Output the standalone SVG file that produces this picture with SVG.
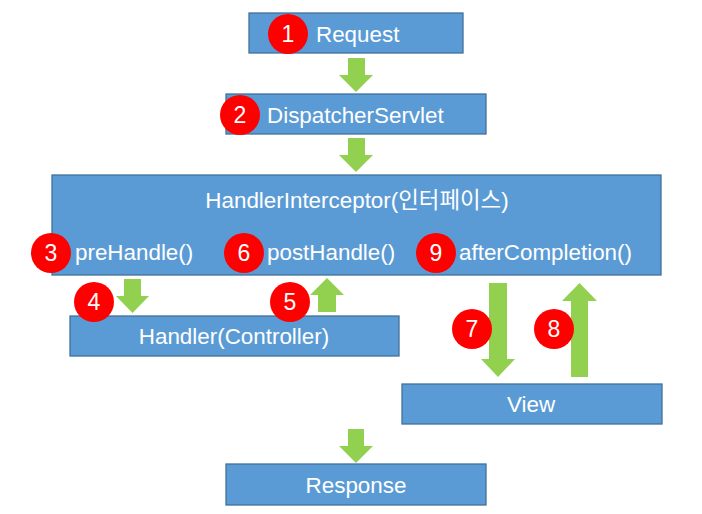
<svg xmlns="http://www.w3.org/2000/svg" width="702" height="514" viewBox="0 0 702 514">
<style>
.box{fill:#5B9BD5;stroke:#41719C;stroke-width:1.3}
.t{font-family:"Liberation Sans","Noto Sans CJK KR",sans-serif;font-size:22.4px;fill:#FFFFFF}
.c{fill:#FF0000}
.n{font-family:"Liberation Sans",sans-serif;font-size:23px;fill:#FFFFFF;text-anchor:middle}
.ar{fill:#92D050}
</style>
<rect width="702" height="514" fill="#FFFFFF"/>
<g id="connectors">
<polygon class="ar" points="348,58 365,58 365,75 373,75 356,92 339,75 348,75"/>
<polygon class="ar" points="348,138 365,138 365,155 373,155 356,172 339,155 348,155"/>
<polygon class="ar" points="124,279 141,279 141,296 149,296 132.5,313 116,296 124,296"/>
<polygon class="ar" points="327,278 344,295 336,295 336,312 318,312 318,295 310,295"/>
<polygon class="ar" points="489,283 507,283 507,359 515,359 498,377 481,359 489,359"/>
<polygon class="ar" points="579.5,283 597,301 588,301 588,377 571,377 571,301 562,301"/>
<polygon class="ar" points="348,429 364,429 364,446 373,446 356,463 339,446 348,446"/>
</g>
<g id="request">
<rect class="box" x="249" y="13" width="214" height="40"/>
<text class="t" x="316" y="42">Request</text>
</g>
<g id="dispatcher">
<rect class="box" x="226" y="94" width="260" height="40"/>
<text class="t" x="267" y="123">DispatcherServlet</text>
</g>
<g id="interceptor">
<rect class="box" x="52" y="175" width="609" height="100"/>
<text class="t" x="357" y="208" text-anchor="middle">HandlerInterceptor(인터페이스)</text>
<text class="t" x="75" y="260">preHandle()</text>
<text class="t" x="267" y="260">postHandle()</text>
<text class="t" x="459" y="260">afterCompletion()</text>
</g>
<g id="handler">
<rect class="box" x="70" y="316" width="329" height="40"/>
<text class="t" x="234" y="344" text-anchor="middle">Handler(Controller)</text>
</g>
<g id="view">
<rect class="box" x="402" y="384" width="260" height="40"/>
<text class="t" x="531" y="412" text-anchor="middle">View</text>
</g>
<g id="response">
<rect class="box" x="226" y="464" width="260" height="41"/>
<text class="t" x="356" y="493" text-anchor="middle">Response</text>
</g>
<g id="badges">
<circle class="c" cx="288" cy="34" r="20"/><text class="n" x="288" y="42">1</text>
<circle class="c" cx="240" cy="115" r="20"/><text class="n" x="240" y="123">2</text>
<circle class="c" cx="51" cy="253" r="20"/><text class="n" x="51" y="261">3</text>
<circle class="c" cx="94" cy="302" r="20"/><text class="n" x="94" y="310">4</text>
<circle class="c" cx="290" cy="302" r="20"/><text class="n" x="290" y="310">5</text>
<circle class="c" cx="244" cy="253" r="20"/><text class="n" x="244" y="261">6</text>
<circle class="c" cx="472" cy="329" r="20"/><text class="n" x="472" y="337">7</text>
<circle class="c" cx="554" cy="329" r="20"/><text class="n" x="554" y="337">8</text>
<circle class="c" cx="436" cy="253" r="20"/><text class="n" x="436" y="261">9</text>
</g>
</svg>
